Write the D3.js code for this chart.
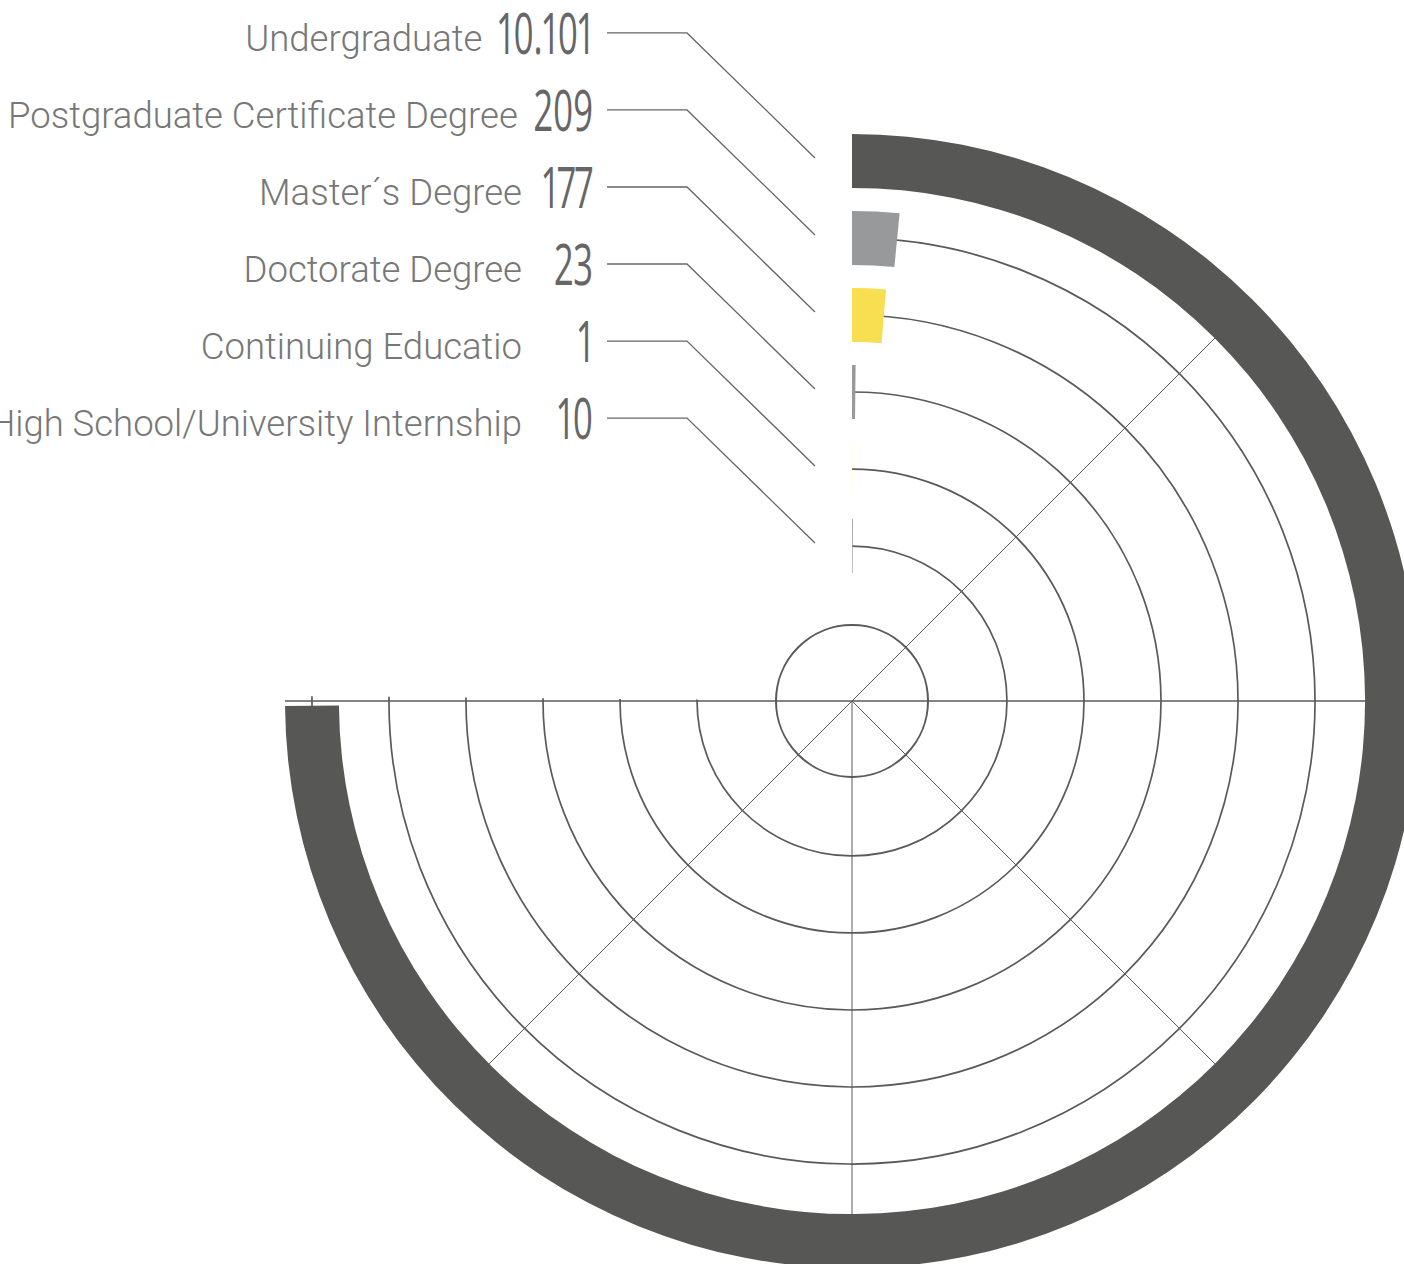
<!DOCTYPE html>
<html>
<head>
<meta charset="utf-8">
<script src="https://cdn.jsdelivr.net/npm/d3@7"></script>
<style>
  body { margin: 0; background: #fff; }
  svg { display: block; }
</style>
</head>
<body>
<svg id="chart" width="1404" height="1264"></svg>
<script>
// data
const categories = [
  'Undergraduate',
  'Postgraduate Certificate Degree',
  'Master´s Degree',
  'Doctorate Degree',
  'Continuing Educatio',
  'High School/University Internship'
];
const values = [10101, 209, 177, 23, 1, 10];
const valueLabels = ['10.101', '209', '177', '23', '1', '10'];
const barColors = ['#575755', '#98999b', '#f8df52', '#98999b', '#f8df52', '#98999b'];

const data = categories.map((c, i) => ({ cat: c, value: values[i], label: valueLabels[i] }));

const svg = d3.select('#chart');
const cx = 852, cy = 701;
const gridColor = '#5a5a5a';

// radius per category (outermost first)
const rScale = d3.scaleBand()
  .domain(categories)
  .range([567, 128])
  .paddingInner(0.3)
  .paddingOuter(0);
const bw = rScale.bandwidth();
const rMid = c => rScale(c) + bw / 2;

// angle: three quarters of a turn
const aScale = d3.scaleLinear()
  .domain([0, 10120])
  .range([0, Math.PI * 1.5]);

const color = d3.scaleOrdinal().domain(categories).range(barColors);

const g = svg.append('g').attr('transform', `translate(${cx},${cy})`);

// grid circles at the middle of each band
const gridArc = d3.arc()
  .innerRadius(d => d)
  .outerRadius(d => d)
  .startAngle(0)
  .endAngle(Math.PI * 1.5 + 0.009);

g.selectAll('.grid-ring')
  .data(categories.map(rMid))
  .enter()
  .append('path')
  .attr('class', 'grid-ring')
  .attr('d', gridArc)
  .attr('fill', 'none')
  .attr('stroke', gridColor)
  .attr('stroke-width', 1.7);

// inner full circle
g.append('circle')
  .attr('r', 76)
  .attr('fill', 'none')
  .attr('stroke', gridColor)
  .attr('stroke-width', 2);

// radial spokes every 45deg (none at 0 and 315)
const spokes = d3.range(1, 7).map(k => k * Math.PI / 4);
const spokeLen = rScale.range()[0];
g.selectAll('.spoke')
  .data(spokes)
  .enter()
  .append('line')
  .attr('class', 'spoke')
  .attr('x1', 0).attr('y1', 0)
  .attr('x2', d => Math.sin(d) * spokeLen)
  .attr('y2', d => -Math.cos(d) * spokeLen)
  .attr('stroke', gridColor)
  .attr('stroke-width', d => (d === Math.PI / 2 || d === Math.PI * 1.5) ? 1.4 : 1);

// bars
const barArc = d3.arc()
  .innerRadius(d => rScale(d.cat))
  .outerRadius(d => rScale(d.cat) + bw)
  .startAngle(0)
  .endAngle(d => aScale(d.value));

g.selectAll('.bar')
  .data(data)
  .enter()
  .append('path')
  .attr('class', 'bar')
  .attr('d', barArc)
  .attr('fill', d => color(d.cat));

// leader lines + labels
const line = d3.line();
const labels = svg.append('g').attr('class', 'labels');

data.forEach(d => {
  const yc = cy - rMid(d.cat);
  const yl = yc - 128;

  labels.append('path')
    .attr('d', line([[607, yl], [687, yl], [815, yc - 3]]))
    .attr('fill', 'none')
    .attr('stroke', '#666')
    .attr('stroke-width', 1.3);

  const sx = 0.62;
  const num = labels.append('text')
    .attr('transform', `translate(593,${yl + 21}) scale(${sx},1)`)
    .attr('text-anchor', 'end')
    .attr('font-family', '"Open Sans", sans-serif')
    .attr('font-size', 56)
    .style('font-variant-numeric', 'proportional-nums')
    .attr('fill', '#666')
    .text(d.label);
  const numW = num.node().getBBox().width * sx;

  const nameX = Math.min(522, 593 - numW - 16);
  labels.append('text')
    .attr('x', nameX)
    .attr('y', yl + 18)
    .attr('text-anchor', 'end')
    .attr('font-family', 'Roboto, sans-serif')
    .attr('font-weight', 300)
    .attr('font-size', 36.5)
    .attr('fill', '#777')
    .text(d.cat);
});
</script>
</body>
</html>
